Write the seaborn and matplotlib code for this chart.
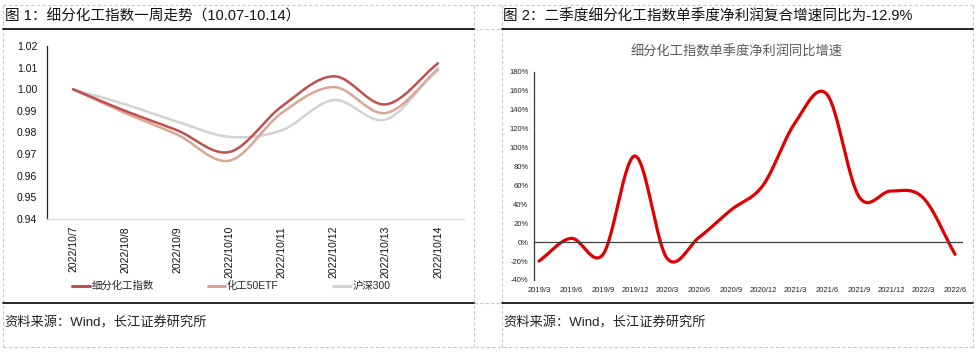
import numpy as np
import pandas as pd
import matplotlib
matplotlib.use("Agg")
import matplotlib.pyplot as plt
from matplotlib.lines import Line2D
from matplotlib.ticker import FuncFormatter, FixedLocator
import seaborn as sns

# ---- data ----
dates = ["2022/10/7", "2022/10/8", "2022/10/9", "2022/10/10",
         "2022/10/11", "2022/10/12", "2022/10/13", "2022/10/14"]
chem_index = [1.000, 0.990, 0.981, 0.971, 0.992, 1.006, 0.993, 1.012]
chem_etf = [1.000, 0.989, 0.979, 0.967, 0.989, 1.001, 0.989, 1.009]
hs300 = [1.000, 0.993, 0.985, 0.978, 0.981, 0.995, 0.986, 1.010]
series_names = ["细分化工指数", "化工50ETF", "沪深300"]

quarters = ["2019/3", "2019/6", "2019/9", "2019/12", "2020/3", "2020/6", "2020/9",
            "2020/12", "2021/3", "2021/6", "2021/9", "2021/12", "2022/3", "2022/6"]
profit_growth = [-20, 4, -13, 91, -17, 5, 34, 60, 126, 156, 48, 54, 47, -12.9]


def smooth(y, n=24):
    # Catmull-Rom curve through the points, like Excel's smoothed line
    y = np.asarray(y, dtype=float)
    p = np.concatenate([[2 * y[0] - y[1]], y, [2 * y[-1] - y[-2]]])
    xs, ys = [], []
    for i in range(len(y) - 1):
        p0, p1, p2, p3 = p[i], p[i + 1], p[i + 2], p[i + 3]
        t = np.linspace(0, 1, n, endpoint=False)
        yy = 0.5 * ((2 * p1) + (-p0 + p2) * t + (2 * p0 - 5 * p1 + 4 * p2 - p3) * t ** 2
                    + (-p0 + 3 * p1 - 3 * p2 + p3) * t ** 3)
        xs.extend(i + t)
        ys.extend(yy)
    xs.append(len(y) - 1)
    ys.append(y[-1])
    return np.array(xs), np.array(ys)


sns.set_style("white")
plt.rcParams["font.family"] = ["Liberation Sans", "Noto Sans CJK SC"]
plt.rcParams["axes.unicode_minus"] = False

W, H = 977, 352
fig = plt.figure(figsize=(W / 100, H / 100), dpi=100)


def fx(px):
    return px / W


def fy(py):
    return 1 - py / H


# ---- frame lines (table cells) ----
grid = dict(color="#c8c8c8", lw=0.8, ls=(0, (3, 2)))
for x in [3, 474, 502, 973]:
    fig.add_artist(Line2D([fx(x), fx(x)], [fy(5), fy(347)], **grid))
for y in [5, 347]:
    fig.add_artist(Line2D([fx(3), fx(973)], [fy(y), fy(y)], **grid))
for y in [28.5, 303]:
    fig.add_artist(Line2D([fx(474), fx(502)], [fy(y), fy(y)], **grid))
    for a, b in [(3, 474), (502, 973)]:
        fig.add_artist(Line2D([fx(a), fx(b)], [fy(y), fy(y)], color="black", lw=1.2))

fig.text(fx(5), fy(16), "图 1：细分化工指数一周走势（10.07-10.14）", fontsize=10.5,
         va="center", ha="left", color="#111111")
fig.text(fx(503), fy(17), "图 2：二季度细分化工指数单季度净利润复合增速同比为-12.9%", fontsize=10.5,
         va="center", ha="left", color="#111111")
for x in [4, 503]:
    fig.text(fx(x), fy(323), "资料来源：Wind，长江证券研究所", fontsize=9.5,
             va="center", ha="left", color="#222222")

# ---- left chart ----
frames = []
for name, vals in zip(series_names, [chem_index, chem_etf, hs300]):
    xs, ys = smooth(vals)
    frames.append(pd.DataFrame({"x": xs, "y": ys, "series": name}))
df1 = pd.concat(frames, ignore_index=True)

ax1 = fig.add_axes([fx(47), fy(219), fx(464) - fx(47), fy(46) - fy(219)])
sns.lineplot(data=df1, x="x", y="y", hue="series", hue_order=series_names[::-1],
             palette={"细分化工指数": "#c0504d", "化工50ETF": "#dba795", "沪深300": "#d3d3d3"},
             lw=1.8, ax=ax1, legend=False, sort=False)
ax1.set_xlim(-0.5, len(dates) - 0.5)
ax1.set_ylim(0.94, 1.02)
ax1.set_yticks(np.arange(0.94, 1.0201, 0.01))
ax1.yaxis.set_major_formatter(FuncFormatter(lambda v, p: f"{v:.2f}"))
ax1.set_xticks(range(len(dates)))
ax1.set_xticklabels(dates, rotation=90)
ax1.xaxis.set_minor_locator(FixedLocator(np.arange(0.5, len(dates), 1)))
ax1.tick_params(axis="x", which="major", length=0, pad=5, labelsize=7.5, colors="#111111")
ax1.tick_params(axis="x", which="minor", length=3, direction="in", color="#333333", width=0.8)
ax1.tick_params(axis="y", length=0, pad=7, labelsize=7.5, colors="#111111")
ax1.set_xlabel("")
ax1.set_ylabel("")
for s in ["top", "right"]:
    ax1.spines[s].set_visible(False)
ax1.spines["left"].set_color("#222222")
ax1.spines["left"].set_linewidth(0.9)
ax1.spines["bottom"].set_color("#d9d9d9")
ax1.spines["bottom"].set_linewidth(0.9)

handles = [Line2D([], [], color=c, lw=2.2) for c in ["#c0504d", "#dba795", "#d3d3d3"]]
fig.legend(handles, series_names, loc="center left", bbox_to_anchor=(fx(72), fy(286)),
           ncol=3, frameon=False, fontsize=7.5, handlelength=1.7, handletextpad=0.15,
           columnspacing=5.2, borderpad=0, borderaxespad=0)

# ---- right chart ----
xs2, ys2 = smooth(profit_growth)
df2 = pd.DataFrame({"x": xs2, "y": ys2})
ax2 = fig.add_axes([fx(534), fy(280), fx(962) - fx(534), fy(71.7) - fy(280)])
sns.lineplot(data=df2, x="x", y="y", color="#e00000", lw=2.3, ax=ax2, sort=False)
ax2.set_xlim((534 - 539) / 32, (962 - 539) / 32)
ax2.set_ylim(-40, 180)
ax2.set_yticks(range(-40, 181, 20))
ax2.yaxis.set_major_formatter(FuncFormatter(lambda v, p: f"{v:.0f}%"))
ax2.set_xticks(range(len(quarters)))
ax2.set_xticklabels(quarters)
ax2.xaxis.set_minor_locator(FixedLocator([k - 0.13 for k in range(1, len(quarters))]))
ax2.spines["bottom"].set_position(("data", 0))
ax2.spines["bottom"].set_color("#404040")
ax2.spines["bottom"].set_linewidth(0.9)
ax2.tick_params(axis="x", which="major", length=0, pad=32, labelsize=5.5, colors="#222222")
ax2.tick_params(axis="x", which="minor", length=2.5, direction="in", color="#404040", width=0.7)
ax2.tick_params(axis="y", length=2.5, direction="in", width=0.7, color="#333333",
                pad=4, labelsize=5.5, colors="#222222")
ax2.set_xlabel("")
ax2.set_ylabel("")
for s in ["top", "right"]:
    ax2.spines[s].set_visible(False)
ax2.spines["left"].set_color("#333333")
ax2.spines["left"].set_linewidth(0.9)
fig.text(fx(737), fy(52), "细分化工指数单季度净利润同比增速", fontsize=9.5,
         ha="center", va="center", color="#595959")

fig.savefig("out.png", dpi=100)
